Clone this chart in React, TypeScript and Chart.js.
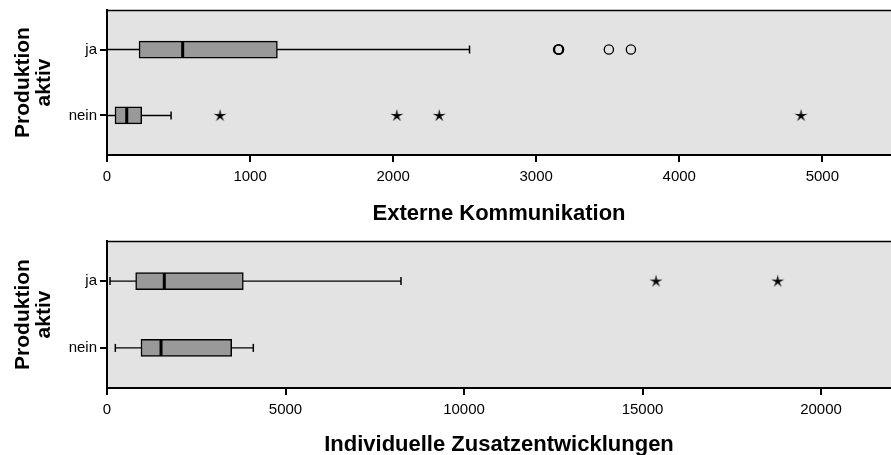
import React, { useEffect, useRef } from 'react';
import { Chart, registerables } from 'chart.js';

Chart.register(...registerables);

// ---------- data ----------
const categories = ['ja', 'nein'];
const yTitle = ['Produktion', 'aktiv'];

// Panel 1: Externe Kommunikation
const extTitle = 'Externe Kommunikation';
const extTicks = [0, 1000, 2000, 3000, 4000, 5000];
const extMax = 5480;
const extWhiskerLow = [0, 0];
const extQ1 = [224, 56];
const extMedian = [529, 138];
const extQ3 = [1191, 243];
const extWhiskerHigh = [2534, 448];
const extOutliersJa = [3153, 3157, 3160, 3508, 3662];
const extOutliersNein: number[] = [];
const extExtremesJa: number[] = [];
const extExtremesNein = [790, 2026, 2322, 4851];

// Panel 2: Individuelle Zusatzentwicklungen
const indTitle = 'Individuelle Zusatzentwicklungen';
const indTicks = [0, 5000, 10000, 15000, 20000];
const indMax = 21960;
const indWhiskerLow = [84, 233];
const indQ1 = [803, 952];
const indMedian = [1605, 1513];
const indQ3 = [3818, 3493];
const indWhiskerHigh = [8235, 4098];
const indOutliersJa: number[] = [];
const indOutliersNein: number[] = [];
const indExtremesJa = [15378, 18787];
const indExtremesNein: number[] = [];

const FONT = "'Liberation Sans', Arial, Helvetica, sans-serif";

type PanelCfg = {
  title: string;
  ticks: number[];
  max: number;
  lo: number[];
  q1: number[];
  med: number[];
  q3: number[];
  hi: number[];
  outliers: number[][];
  extremes: number[][];
  top: number;
  height: number;
  padTop: number;
  axisH: number;
  titlePad: number;
};

const panels: PanelCfg[] = [
  {
    title: extTitle, ticks: extTicks, max: extMax,
    lo: extWhiskerLow, q1: extQ1, med: extMedian, q3: extQ3, hi: extWhiskerHigh,
    outliers: [extOutliersJa, extOutliersNein], extremes: [extExtremesJa, extExtremesNein],
    top: 0, height: 228, padTop: 10, axisH: 73, titlePad: 3,
  },
  {
    title: indTitle, ticks: indTicks, max: indMax,
    lo: indWhiskerLow, q1: indQ1, med: indMedian, q3: indQ3, hi: indWhiskerHigh,
    outliers: [indOutliersJa, indOutliersNein], extremes: [indExtremesJa, indExtremesNein],
    top: 228, height: 227, padTop: 13, axisH: 67, titlePad: -1,
  },
];

function makeStar(): HTMLCanvasElement {
  const c = document.createElement('canvas');
  c.width = 15;
  c.height = 15;
  const ctx = c.getContext('2d')!;
  const cx = 7.5, cy = 7.8, R = 6.8, r = 2.0;
  ctx.beginPath();
  for (let k = 0; k < 10; k++) {
    const ang = -Math.PI / 2 + (k * Math.PI) / 5;
    const rad = k % 2 === 0 ? R : r;
    const px = cx + Math.cos(ang) * rad;
    const py = cy + Math.sin(ang) * rad;
    if (k === 0) ctx.moveTo(px, py);
    else ctx.lineTo(px, py);
  }
  ctx.closePath();
  ctx.fillStyle = '#000';
  ctx.fill();
  return c;
}

const bgPlugin = {
  id: 'plotBg',
  beforeDraw(chart: any) {
    const { ctx, chartArea } = chart;
    ctx.save();
    ctx.fillStyle = '#e3e3e3';
    ctx.fillRect(chartArea.left, chartArea.top, chartArea.right - chartArea.left, chartArea.bottom - chartArea.top);
    ctx.restore();
  },
  beforeDatasetsDraw(chart: any) {
    const { ctx, chartArea } = chart;
    ctx.save();
    ctx.strokeStyle = '#000';
    ctx.lineWidth = 1.5;
    ctx.beginPath();
    ctx.moveTo(chartArea.left, chartArea.top + 0.5);
    ctx.lineTo(chartArea.right, chartArea.top + 0.5);
    ctx.stroke();
    ctx.restore();
  },
};

function Panel({ cfg }: { cfg: PanelCfg }) {
  const ref = useRef<HTMLCanvasElement | null>(null);

  useEffect(() => {
    if (!ref.current) return;
    const star = makeStar();
    const datasets: any[] = [];

    categories.forEach((_, i) => {
      datasets.push({
        type: 'scatter',
        showLine: true,
        data: [{ x: cfg.lo[i], y: i }, { x: cfg.hi[i], y: i }],
        borderColor: '#000',
        borderWidth: 1.4,
        pointRadius: 0,
        order: 10,
      });
    });

    datasets.push({
      type: 'bar',
      indexAxis: 'y',
      data: categories.map((_, i) => ({ x: [cfg.q1[i], cfg.q3[i]], y: i })),
      barThickness: 17,
      backgroundColor: '#999999',
      borderColor: '#000',
      borderWidth: 1.5,
      borderSkipped: false,
      order: 5,
    });

    datasets.push({
      type: 'scatter',
      data: categories.flatMap((_, i) => [{ x: cfg.lo[i], y: i }, { x: cfg.hi[i], y: i }]),
      pointStyle: 'line',
      pointRotation: 90,
      pointRadius: 4,
      pointBorderWidth: 1.5,
      pointBorderColor: '#000',
      order: 3,
    });

    datasets.push({
      type: 'scatter',
      data: categories.map((_, i) => ({ x: cfg.med[i], y: i })),
      pointStyle: 'line',
      pointRotation: 90,
      pointRadius: 8,
      pointBorderWidth: 3,
      pointBorderColor: '#000',
      order: 1,
    });

    datasets.push({
      type: 'scatter',
      data: cfg.outliers.flatMap((arr, i) => arr.map((v) => ({ x: v, y: i }))),
      pointStyle: 'circle',
      pointRadius: 4.6,
      pointBorderWidth: 1.3,
      pointBorderColor: '#000',
      pointBackgroundColor: 'rgba(0,0,0,0)',
      order: 1,
    });

    datasets.push({
      type: 'scatter',
      data: cfg.extremes.flatMap((arr, i) => arr.map((v) => ({ x: v, y: i }))),
      pointStyle: star,
      pointRadius: 7,
      order: 1,
    });

    const chart = new Chart(ref.current, {
      type: 'scatter',
      data: { datasets },
      options: {
        animation: false,
        responsive: false,
        events: [],
        layout: { autoPadding: false, padding: { top: cfg.padTop, right: 0, left: 0, bottom: 0 } },
        plugins: { legend: { display: false }, tooltip: { enabled: false } },
        scales: {
          x: {
            type: 'linear',
            min: 0,
            max: cfg.max,
            offset: false,
            afterBuildTicks: (s: any) => {
              s.ticks = cfg.ticks.map((v) => ({ value: v }));
            },
            afterFit: (s: any) => {
              s.height = cfg.axisH;
              s.paddingLeft = 0;
              s.paddingRight = 0;
            },
            grid: {
              display: true,
              drawOnChartArea: false,
              drawTicks: true,
              tickLength: 7,
              tickWidth: 2,
              tickColor: '#000',
              color: '#000',
              lineWidth: 2,
              offset: false,
            },
            border: { display: true, color: '#000', width: 2 },
            ticks: {
              color: '#000',
              font: { family: FONT, size: 15 },
              padding: 6,
              maxRotation: 0,
              autoSkip: false,
              callback: (v: any) => String(v),
            },
            title: {
              display: true,
              text: cfg.title,
              color: '#000',
              font: { family: FONT, size: 22, weight: 'bold', lineHeight: 1 },
              padding: { top: 0, bottom: cfg.titlePad },
            },
          },
          y: {
            type: 'linear',
            min: -0.6,
            max: 1.6,
            reverse: true,
            offset: false,
            afterBuildTicks: (s: any) => {
              s.ticks = categories.map((_, i) => ({ value: i }));
            },
            afterFit: (s: any) => {
              s.width = 107;
              s.paddingTop = 0;
              s.paddingBottom = 0;
            },
            grid: {
              display: true,
              drawOnChartArea: false,
              drawTicks: true,
              tickLength: 7,
              tickWidth: 2,
              tickColor: '#000',
              color: '#000',
              lineWidth: 2,
              offset: false,
            },
            border: { display: true, color: '#000', width: 2 },
            ticks: {
              color: '#000',
              font: { family: FONT, size: 15 },
              padding: 3,
              autoSkip: false,
              callback: (v: any) => categories[v] ?? '',
            },
            title: {
              display: true,
              text: yTitle,
              color: '#000',
              font: { family: FONT, size: 21, weight: 'bold', lineHeight: 1.03 },
              padding: { top: 12, bottom: 0 },
            },
          },
        },
      } as any,
      plugins: [bgPlugin],
    });
    return () => chart.destroy();
  }, [cfg]);

  return (
    <div style={{ position: 'absolute', left: 0, top: cfg.top, width: 891, height: cfg.height }}>
      <canvas ref={ref} width={891} height={cfg.height} style={{ width: 891, height: cfg.height, display: 'block' }} />
    </div>
  );
}

export default function App() {
  return (
    <div style={{ position: 'absolute', left: 0, top: 0, width: 891, height: 455, background: '#fff', overflow: 'hidden' }}>
      {panels.map((p, i) => (
        <Panel key={i} cfg={p} />
      ))}
    </div>
  );
}
